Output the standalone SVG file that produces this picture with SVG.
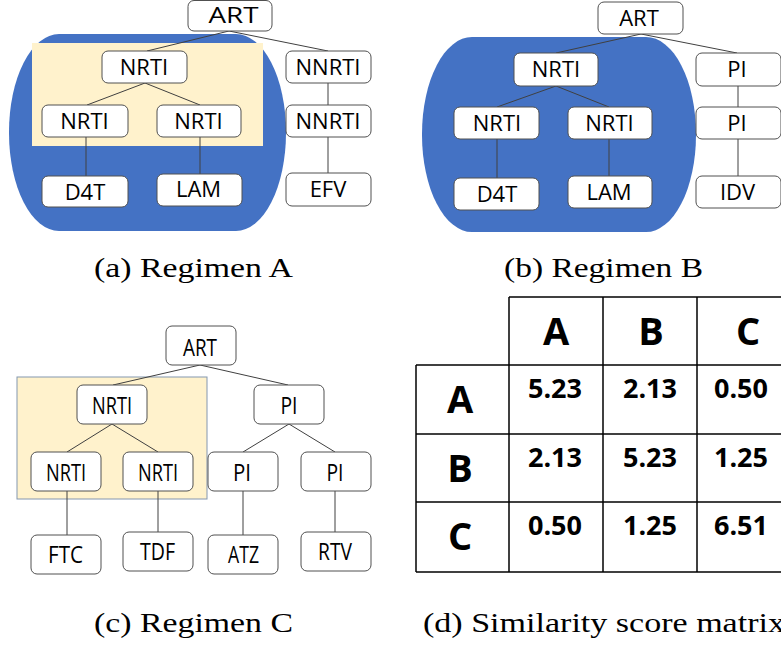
<svg xmlns="http://www.w3.org/2000/svg" width="781" height="649" viewBox="0 0 781 649">
<style>
.bg{fill:#ffffff}
.blob{fill:#4472C4}
.yel{fill:#FFF2CC}
.yelc{fill:#FFF2CC;stroke:#8497B0;stroke-width:1}
.box{fill:#ffffff;stroke:#505050;stroke-width:1}
.ln{stroke:#404040;stroke-width:1;fill:none}
.t{font-family:"Open Sans","Noto Sans",sans-serif;font-size:22px;text-anchor:middle;fill:#000}
.tc{font-family:"Open Sans","Noto Sans",sans-serif;font-size:24px;text-anchor:middle;fill:#000}
.cap{font-family:"Liberation Serif","DejaVu Serif",serif;font-size:27px;fill:#000}
.tl{stroke:#000;stroke-width:1.5;fill:none}
.hd{font-family:"Open Sans","Noto Sans",sans-serif;font-size:38px;font-weight:bold;text-anchor:middle;fill:#000}
.val{font-family:"Open Sans","Noto Sans",sans-serif;font-size:27px;font-weight:bold;text-anchor:middle;fill:#000}
</style>
<rect class="bg" x="0" y="0" width="781" height="649"/>

<!-- Panel (a) backgrounds -->
<g id="a-backdrop">
<rect class="blob" x="9" y="34" width="277" height="197" rx="50" ry="98"/>
<rect class="yel" x="32" y="43" width="231" height="103"/>
</g>
<!-- Panel (b) backdrop -->
<g id="b-backdrop">
<rect class="blob" x="422" y="37" width="274" height="195" rx="50" ry="97"/>
</g>
<!-- Panel (c) backdrop -->
<g id="c-backdrop">
<rect class="yelc" x="17" y="377" width="190" height="122"/>
</g>

<g id="connectors">
<!-- a -->
<line class="ln" x1="229" y1="31" x2="147" y2="51"/>
<line class="ln" x1="229" y1="31" x2="328" y2="51"/>
<line class="ln" x1="145" y1="83" x2="87" y2="105"/>
<line class="ln" x1="145" y1="83" x2="200" y2="105"/>
<line class="ln" x1="86" y1="137" x2="86" y2="176"/>
<line class="ln" x1="200" y1="137" x2="200" y2="174"/>
<line class="ln" x1="328" y1="83" x2="328" y2="105"/>
<line class="ln" x1="328" y1="137" x2="328" y2="173"/>
<!-- b -->
<line class="ln" x1="641" y1="34" x2="556" y2="53"/>
<line class="ln" x1="641" y1="34" x2="737" y2="53"/>
<line class="ln" x1="556" y1="86" x2="497" y2="107"/>
<line class="ln" x1="556" y1="86" x2="609" y2="107"/>
<line class="ln" x1="497" y1="139" x2="497" y2="178"/>
<line class="ln" x1="609" y1="139" x2="609" y2="176"/>
<line class="ln" x1="738" y1="86" x2="738" y2="107"/>
<line class="ln" x1="738" y1="139" x2="738" y2="176"/>
<!-- c -->
<line class="ln" x1="200" y1="365" x2="113" y2="385"/>
<line class="ln" x1="200" y1="365" x2="288" y2="385"/>
<line class="ln" x1="112" y1="424" x2="67" y2="452"/>
<line class="ln" x1="112" y1="424" x2="158" y2="452"/>
<line class="ln" x1="289" y1="424" x2="243" y2="452"/>
<line class="ln" x1="289" y1="424" x2="335" y2="452"/>
<line class="ln" x1="67" y1="491" x2="67" y2="535"/>
<line class="ln" x1="158" y1="491" x2="158" y2="532"/>
<line class="ln" x1="243" y1="491" x2="243" y2="535"/>
<line class="ln" x1="335" y1="491" x2="335" y2="532"/>
</g>

<!-- Panel (a) nodes -->
<g id="a-art"><rect class="box" x="188" y="0.5" width="84" height="30.5" rx="6"/><text class="t" x="233.5" y="23" textLength="50" lengthAdjust="spacingAndGlyphs">ART</text></g>
<g id="a-nrti"><rect class="box" x="102" y="51" width="85" height="32" rx="6"/><text class="t" x="144" y="75">NRTI</text></g>
<g id="a-nrti-l"><rect class="box" x="42" y="105" width="86" height="32" rx="6"/><text class="t" x="84.5" y="129">NRTI</text></g>
<g id="a-nrti-r"><rect class="box" x="157" y="105" width="84" height="32" rx="6"/><text class="t" x="198.5" y="129">NRTI</text></g>
<g id="a-d4t"><rect class="box" x="42" y="176" width="86" height="31" rx="6"/><text class="t" x="85" y="200">D4T</text></g>
<g id="a-lam"><rect class="box" x="157" y="174" width="85" height="32" rx="6"/><text class="t" x="198.5" y="197">LAM</text></g>
<g id="a-nnrti"><rect class="box" x="286" y="51" width="85" height="32" rx="6"/><text class="t" x="328" y="75">NNRTI</text></g>
<g id="a-nnrti2"><rect class="box" x="286" y="105" width="85" height="32" rx="6"/><text class="t" x="328" y="129">NNRTI</text></g>
<g id="a-efv"><rect class="box" x="286" y="173" width="85" height="33" rx="6"/><text class="t" x="328" y="197">EFV</text></g>

<!-- Panel (b) nodes -->
<g id="b-art"><rect class="box" x="598" y="2" width="85" height="32" rx="6"/><text class="t" x="639" y="26">ART</text></g>
<g id="b-nrti"><rect class="box" x="514" y="53" width="84" height="33" rx="6"/><text class="t" x="556" y="77">NRTI</text></g>
<g id="b-nrti-l"><rect class="box" x="454" y="107" width="85" height="32" rx="6"/><text class="t" x="497" y="131">NRTI</text></g>
<g id="b-nrti-r"><rect class="box" x="568" y="107" width="84" height="32" rx="6"/><text class="t" x="609.5" y="131">NRTI</text></g>
<g id="b-d4t"><rect class="box" x="454" y="178" width="85" height="32" rx="6"/><text class="t" x="497" y="202">D4T</text></g>
<g id="b-lam"><rect class="box" x="568" y="176" width="84" height="32" rx="6"/><text class="t" x="609" y="200">LAM</text></g>
<g id="b-pi"><rect class="box" x="696" y="53" width="85" height="33" rx="6"/><text class="t" x="737" y="77">PI</text></g>
<g id="b-pi2"><rect class="box" x="696" y="107" width="85" height="32" rx="6"/><text class="t" x="737" y="131">PI</text></g>
<g id="b-idv"><rect class="box" x="696" y="176" width="85" height="32" rx="6"/><text class="t" x="737.5" y="200">IDV</text></g>

<!-- Panel (c) nodes -->
<g id="c-art"><rect class="box" x="166" y="326" width="70" height="39" rx="6"/><text class="tc" x="200" y="356" textLength="34" lengthAdjust="spacingAndGlyphs">ART</text></g>
<g id="c-nrti"><rect class="box" x="77" y="385" width="70" height="39" rx="6"/><text class="tc" x="112" y="414" textLength="40" lengthAdjust="spacingAndGlyphs">NRTI</text></g>
<g id="c-nrti-l"><rect class="box" x="31" y="452" width="70" height="39" rx="6"/><text class="tc" x="66" y="481" textLength="40" lengthAdjust="spacingAndGlyphs">NRTI</text></g>
<g id="c-nrti-r"><rect class="box" x="123" y="452" width="70" height="39" rx="6"/><text class="tc" x="158" y="481" textLength="40" lengthAdjust="spacingAndGlyphs">NRTI</text></g>
<g id="c-pi"><rect class="box" x="254" y="385" width="70" height="39" rx="6"/><text class="tc" x="289" y="414" textLength="17" lengthAdjust="spacingAndGlyphs">PI</text></g>
<g id="c-pi-l"><rect class="box" x="208" y="452" width="70" height="39" rx="6"/><text class="tc" x="242" y="481" textLength="18" lengthAdjust="spacingAndGlyphs">PI</text></g>
<g id="c-pi-r"><rect class="box" x="301" y="452" width="70" height="39" rx="6"/><text class="tc" x="335" y="481" textLength="17" lengthAdjust="spacingAndGlyphs">PI</text></g>
<g id="c-ftc"><rect class="box" x="31" y="535" width="70" height="39" rx="6"/><text class="tc" x="65.5" y="563" textLength="35" lengthAdjust="spacingAndGlyphs">FTC</text></g>
<g id="c-tdf"><rect class="box" x="123" y="532" width="70" height="39" rx="6"/><text class="tc" x="157.5" y="560" textLength="35" lengthAdjust="spacingAndGlyphs">TDF</text></g>
<g id="c-atz"><rect class="box" x="208" y="535" width="70" height="39" rx="6"/><text class="tc" x="243.5" y="563" textLength="31" lengthAdjust="spacingAndGlyphs">ATZ</text></g>
<g id="c-rtv"><rect class="box" x="301" y="532" width="70" height="39" rx="6"/><text class="tc" x="335" y="560" textLength="34" lengthAdjust="spacingAndGlyphs">RTV</text></g>

<!-- Panel (d) table -->
<g id="d-table">
<line class="tl" x1="509" y1="297" x2="781" y2="297"/>
<line class="tl" x1="416" y1="365" x2="781" y2="365"/>
<line class="tl" x1="416" y1="434" x2="781" y2="434"/>
<line class="tl" x1="416" y1="502" x2="781" y2="502"/>
<line class="tl" x1="416" y1="572" x2="781" y2="572"/>
<line class="tl" x1="416" y1="365" x2="416" y2="572"/>
<line class="tl" x1="509" y1="297" x2="509" y2="572"/>
<line class="tl" x1="603" y1="297" x2="603" y2="572"/>
<line class="tl" x1="697" y1="297" x2="697" y2="572"/>
<text class="hd" x="556" y="345">A</text>
<text class="hd" x="651" y="345">B</text>
<text class="hd" x="748" y="345">C</text>
<text class="hd" x="460" y="413">A</text>
<text class="hd" x="460" y="482">B</text>
<text class="hd" x="460" y="550">C</text>
<text class="val" x="555" y="398">5.23</text>
<text class="val" x="650" y="398">2.13</text>
<text class="val" x="741" y="398">0.50</text>
<text class="val" x="555" y="467">2.13</text>
<text class="val" x="650" y="467">5.23</text>
<text class="val" x="741" y="467">1.25</text>
<text class="val" x="555" y="535">0.50</text>
<text class="val" x="650" y="535">1.25</text>
<text class="val" x="741" y="535">6.51</text>
</g>

<!-- Captions -->
<g id="captions">
<text class="cap" x="94" y="277" textLength="199" lengthAdjust="spacingAndGlyphs">(a) Regimen A</text>
<text class="cap" x="504" y="277" textLength="199" lengthAdjust="spacingAndGlyphs">(b) Regimen B</text>
<text class="cap" x="94" y="632" textLength="199" lengthAdjust="spacingAndGlyphs">(c) Regimen C</text>
<text class="cap" x="423" y="632" textLength="362" lengthAdjust="spacingAndGlyphs">(d) Similarity score matrix</text>
</g>
</svg>
